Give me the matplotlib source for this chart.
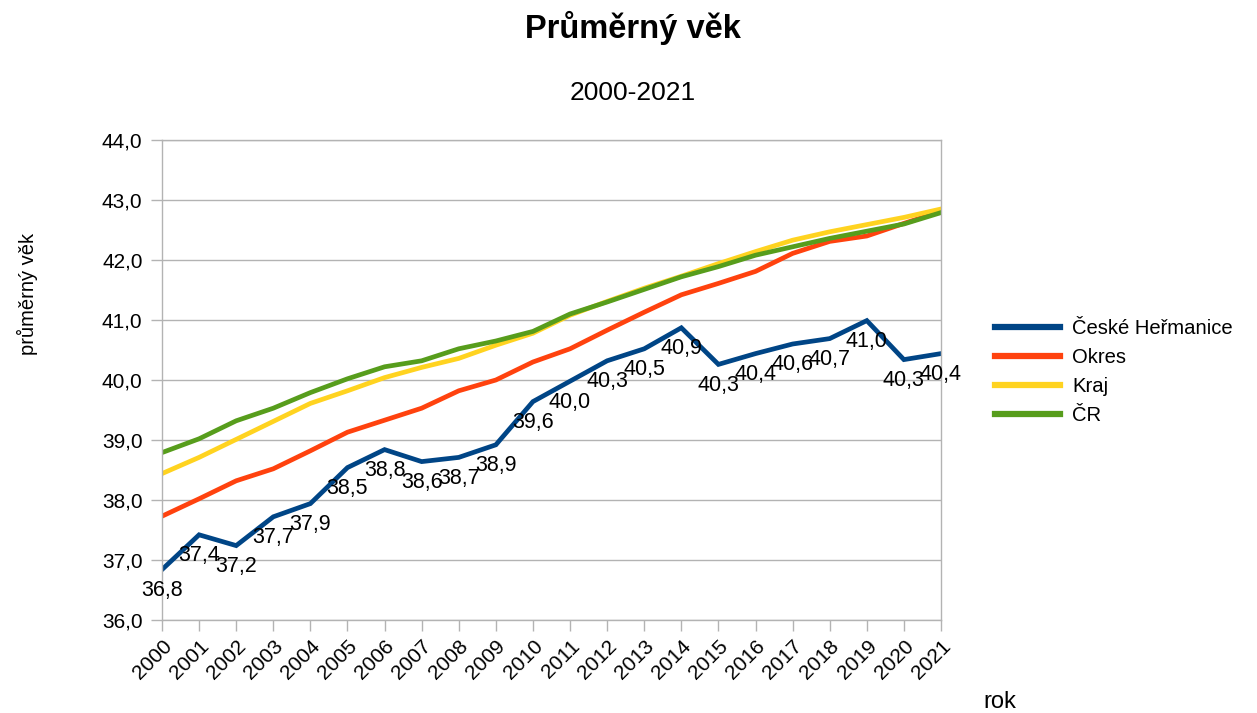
import matplotlib
matplotlib.use("Agg")
import matplotlib.pyplot as plt

plt.rcParams['font.family'] = ['Liberation Sans', 'DejaVu Sans']

years = list(range(2000, 2022))
ceske_hermanice = [36.84, 37.42, 37.24, 37.72, 37.94, 38.54, 38.84, 38.64, 38.71, 38.92,
                   39.64, 39.98, 40.32, 40.52, 40.87, 40.26, 40.44, 40.6, 40.69, 40.99,
                   40.34, 40.44]
okres = [37.73, 38.02, 38.32, 38.52, 38.82, 39.13, 39.33, 39.53, 39.82, 40.0,
         40.3, 40.52, 40.83, 41.13, 41.42, 41.61, 41.81, 42.11, 42.31, 42.4,
         42.61, 42.81]
kraj = [38.44, 38.71, 39.01, 39.31, 39.61, 39.82, 40.04, 40.21, 40.36, 40.58,
        40.78, 41.08, 41.31, 41.53, 41.73, 41.94, 42.14, 42.33, 42.47, 42.59,
        42.71, 42.85]
cr = [38.79, 39.02, 39.32, 39.53, 39.79, 40.02, 40.22, 40.32, 40.52, 40.65,
      40.81, 41.1, 41.3, 41.51, 41.72, 41.89, 42.08, 42.22, 42.36, 42.48,
      42.6, 42.79]
series_names = ["České Heřmanice", "Okres", "Kraj", "ČR"]
colors = ["#004586", "#ff420e", "#ffd320", "#579d1c"]
yticks = [36, 37, 38, 39, 40, 41, 42, 43, 44]

fig = plt.figure(figsize=(12.57, 7.13), dpi=100)
ax = fig.add_axes([162/1257, 1-620/713, (941-162)/1257, (620-140)/713])

x = list(range(len(years)))
for data, name, c in zip([ceske_hermanice, okres, kraj, cr], series_names, colors):
    ax.plot(x, data, color=c, lw=3.4, label=name, solid_joinstyle='miter')

for xi, v in zip(x, ceske_hermanice):
    ax.annotate(f"{v:.1f}".replace('.', ','), (xi, v), xytext=(0, -15),
                textcoords='offset points', ha='center', va='center',
                fontsize=15.5, color='black', zorder=5)

ax.set_xlim(0, len(years) - 1)
ax.set_ylim(36, 44)
ax.set_yticks(yticks)
ax.set_yticklabels([f"{t:.1f}".replace('.', ',') for t in yticks], fontsize=15)
ax.set_xticks(x)
ax.set_xticklabels([str(y) for y in years], rotation=45, ha='right',
                   rotation_mode='anchor', fontsize=15)
ax.grid(axis='y', color='#b3b3b3', lw=1)
ax.set_axisbelow(True)
for s in ax.spines.values():
    s.set_color('#b3b3b3')
    s.set_linewidth(1)
ax.tick_params(axis='both', color='#b3b3b3', length=8, width=1, direction='out')
ax.tick_params(axis='x', pad=4)
ax.tick_params(axis='y', pad=6)

fig.text(633/1257, 1-28/713, "Průměrný věk", ha='center', va='center',
         fontsize=23.5, fontweight='bold')
fig.text(633/1257, 1-93/713, "2000-2021", ha='center', va='center', fontsize=19)
fig.text(27/1257, 1-294/713, "průměrný věk", rotation=90, ha='center', va='center', fontsize=14.5)
fig.text(1000/1257, 1-702/713, "rok", ha='center', va='center', fontsize=17)

leg = ax.legend(loc='center left', bbox_to_anchor=(977/1257, 1-372/713),
                bbox_transform=fig.transFigure, frameon=False, fontsize=14.6,
                handlelength=3.2, handletextpad=0.6, labelspacing=0.5)
for h in leg.get_lines():
    h.set_linewidth(4.5)

fig.savefig("out.png", dpi=100)
